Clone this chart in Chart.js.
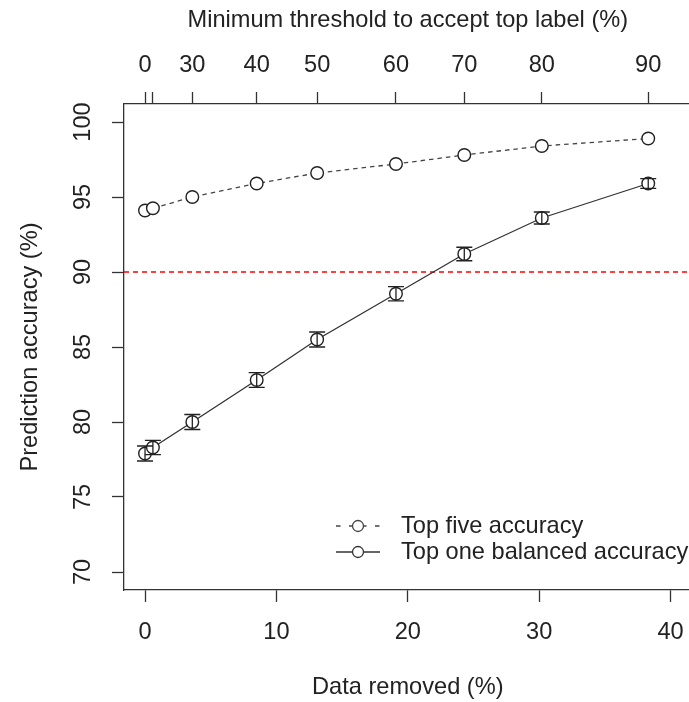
<!DOCTYPE html>
<html>
<head>
<meta charset="utf-8">
<script src="https://cdn.jsdelivr.net/npm/chart.js@4/dist/chart.umd.min.js"></script>
<style>
html, body { margin:0; padding:0; overflow:hidden; background:#fff; width:689px; height:702px; }
#wrap { position:absolute; left:0; top:0; width:700px; height:702px; }
</style>
</head>
<body>
<div id="wrap"><canvas id="c"></canvas></div>
<script>
// ---- data ----
const dataRemoved      = [0, 0.6, 3.6, 8.5, 13.1, 19.1, 24.3, 30.2, 38.3];      // x (%)
const thresholdLabels  = ['0', '20', '30', '40', '50', '60', '70', '80', '90']; // top axis (%)
const topFiveAccuracy  = [94.1, 94.25, 95.0, 95.9, 96.6, 97.2, 97.8, 98.4, 98.9];
const topOneBalanced   = [77.9, 78.3, 80.0, 82.8, 85.5, 88.55, 91.2, 93.6, 95.9];
const topOneError      = [0.5, 0.47, 0.5, 0.49, 0.5, 0.47, 0.45, 0.4, 0.32];
const xTickValues      = [0, 10, 20, 30, 40];
const yTickValues      = [70, 75, 80, 85, 90, 95, 100];
const targetAccuracy   = 90;

const FONT = { family: '"Liberation Sans", Arial, sans-serif', size: 23.6 };
const TXT = '#222';
const AX = '#333';

const toPts = ys => dataRemoved.map((x, i) => ({ x: x, y: ys[i] }));

const refLine = {
  id: 'refLine',
  beforeDatasetsDraw(chart) {
    const { ctx, chartArea, scales } = chart;
    const y = scales.y.getPixelForValue(targetAccuracy);
    ctx.save();
    ctx.strokeStyle = '#ff0000';
    ctx.lineWidth = 1.4;
    ctx.setLineDash([5, 4]);
    ctx.beginPath();
    ctx.moveTo(chartArea.left, y);
    ctx.lineTo(chartArea.right, y);
    ctx.stroke();
    ctx.restore();
  }
};

const errorBars = {
  id: 'errorBars',
  afterDatasetsDraw(chart) {
    const { ctx, scales } = chart;
    ctx.save();
    ctx.strokeStyle = '#222';
    ctx.lineWidth = 1.3;
    topOneBalanced.forEach((v, i) => {
      const x = scales.x.getPixelForValue(dataRemoved[i]);
      const y1 = scales.y.getPixelForValue(v - topOneError[i]);
      const y2 = scales.y.getPixelForValue(v + topOneError[i]);
      ctx.beginPath();
      ctx.moveTo(x, y1); ctx.lineTo(x, y2);
      ctx.moveTo(x - 8, y1); ctx.lineTo(x + 8, y1);
      ctx.moveTo(x - 8, y2); ctx.lineTo(x + 8, y2);
      ctx.stroke();
    });
    ctx.restore();
  }
};

const customLegend = {
  id: 'customLegend',
  afterDraw(chart) {
    const { ctx } = chart;
    const rows = [
      { y: 526, text: 'Top five accuracy', dash: [4.5, 8.5], color: '#444' },
      { y: 552, text: 'Top one balanced accuracy', dash: [], color: '#333' }
    ];
    ctx.save();
    rows.forEach(r => {
      ctx.strokeStyle = r.color;
      ctx.lineWidth = 1.3;
      ctx.setLineDash(r.dash);
      ctx.beginPath();
      ctx.moveTo(336, r.y); ctx.lineTo(380, r.y);
      ctx.stroke();
      ctx.setLineDash([]);
      ctx.fillStyle = '#fff';
      ctx.beginPath();
      ctx.arc(358, r.y, 5.5, 0, Math.PI * 2);
      ctx.fill(); ctx.stroke();
      ctx.fillStyle = TXT;
      ctx.font = FONT.size + 'px ' + FONT.family;
      ctx.textAlign = 'left';
      ctx.textBaseline = 'middle';
      ctx.fillText(r.text, 401, r.y);
    });
    ctx.restore();
  }
};

new Chart(document.getElementById('c'), {
  type: 'line',
  data: {
    datasets: [
      {
        label: 'Top five accuracy',
        data: toPts(topFiveAccuracy),
        borderColor: '#444',
        borderWidth: 1.3,
        borderDash: [4.5, 4],
        pointRadius: 6.3,
        pointBorderWidth: 1.4,
        pointBackgroundColor: '#fff',
        pointBorderColor: '#222',
        tension: 0,
        fill: false
      },
      {
        label: 'Top one balanced accuracy',
        data: toPts(topOneBalanced),
        borderColor: '#333',
        borderWidth: 1.3,
        pointRadius: 6.3,
        pointBorderWidth: 1.4,
        pointBackgroundColor: '#fff',
        pointBorderColor: '#222',
        tension: 0,
        fill: false
      }
    ]
  },
  options: {
    responsive: true,
    maintainAspectRatio: false,
    animation: false,
    layout: { padding: { left: 0, top: 0, bottom: 0, right: 6 } },
    plugins: { legend: { display: false }, tooltip: { enabled: false } },
    scales: {
      x: {
        type: 'linear', position: 'bottom', min: -1.6, max: 41.6,
        afterBuildTicks: s => { s.ticks = xTickValues.map(v => ({ value: v })); },
        afterFit: s => { s.height = 112; },
        ticks: { font: FONT, color: TXT, padding: 16, maxRotation: 0, autoSkip: false },
        grid: { drawOnChartArea: false, tickLength: 12, tickColor: AX, tickWidth: 1.3 },
        border: { display: true, color: AX, width: 1.3 },
        title: { display: true, text: 'Data removed (%)', font: FONT, color: TXT, padding: { top: 0, bottom: 0 } }
      },
      x2: {
        type: 'linear', position: 'top', min: -1.6, max: 41.6,
        afterBuildTicks: s => { s.ticks = dataRemoved.map(v => ({ value: v })); },
        afterFit: s => { s.height = 104; },
        ticks: {
          font: FONT, color: TXT, padding: 12, maxRotation: 0, autoSkip: false,
          // hide a label whose tick is too close to the previous one (as R does for overlaps)
          callback: (v, i) => (i > 0 && dataRemoved[i] - dataRemoved[i - 1] < 2) ? '' : thresholdLabels[i]
        },
        grid: { drawOnChartArea: false, tickLength: 12, tickColor: AX, tickWidth: 1.3 },
        border: { display: true, color: AX, width: 1.3 },
        title: { display: true, text: 'Minimum threshold to accept top label (%)', font: FONT, color: TXT, padding: { top: 6, bottom: 0 } }
      },
      y: {
        type: 'linear', position: 'left', min: 68.8, max: 101.2,
        afterBuildTicks: s => { s.ticks = yTickValues.map(v => ({ value: v })); },
        afterFit: s => { s.width = 124; },
        ticks: { font: FONT, color: TXT, padding: 9, minRotation: 90, maxRotation: 90, crossAlign: 'center', autoSkip: false },
        grid: { drawOnChartArea: false, tickLength: 12, tickColor: AX, tickWidth: 1.3 },
        border: { display: true, color: AX, width: 1.3 },
        title: { display: true, text: 'Prediction accuracy (%)', font: FONT, color: TXT, padding: { top: 16, bottom: 0 } }
      }
    }
  },
  plugins: [refLine, errorBars, customLegend]
});
</script>
</body>
</html>
